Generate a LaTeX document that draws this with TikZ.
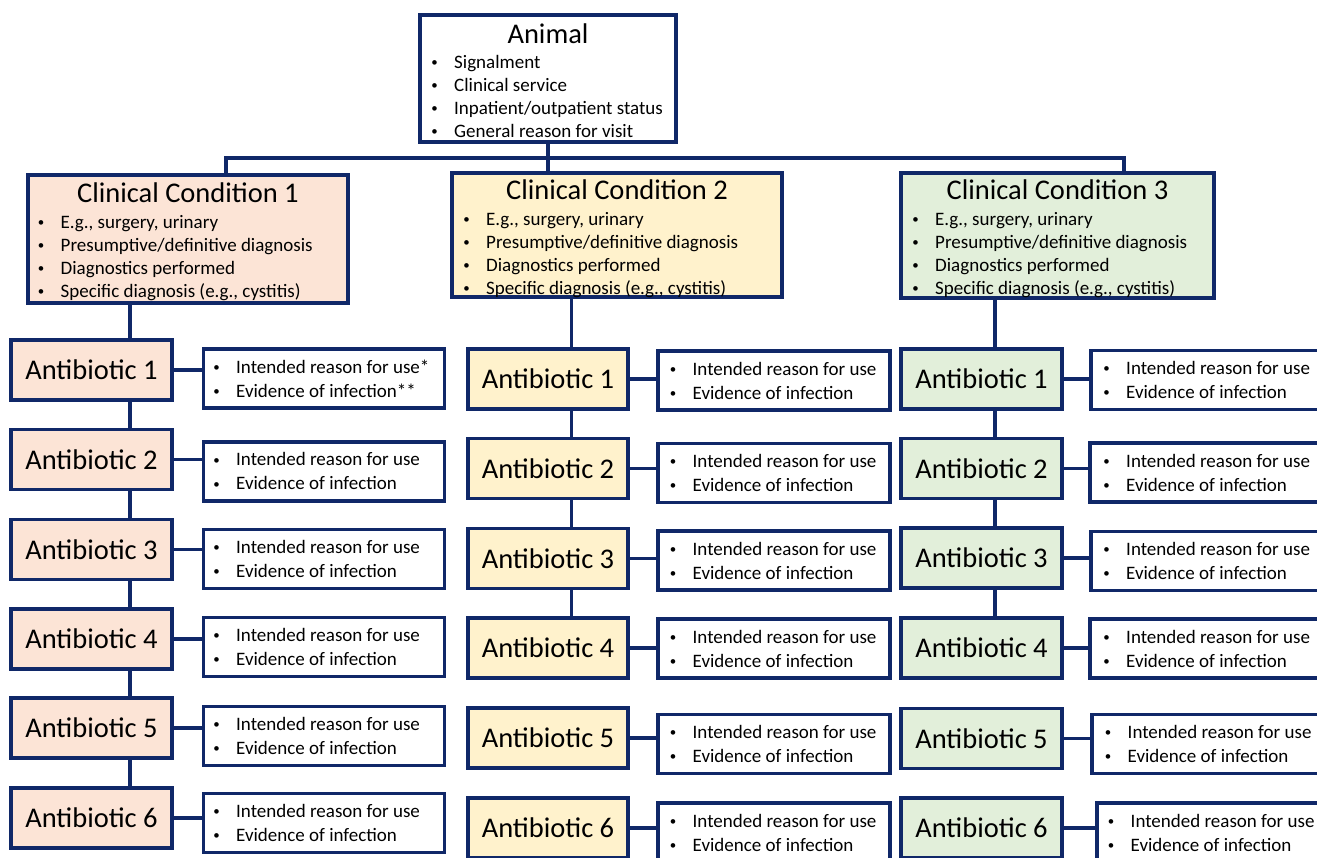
\documentclass[tikz,border=0pt]{standalone}
\usepackage{graphicx}
\usepackage{fontspec}
\setmainfont{Carlito}
\definecolor{navy}{RGB}{16,40,104}
\definecolor{peach}{RGB}{252,228,214}
\definecolor{pyellow}{RGB}{255,242,204}
\definecolor{pgreen}{RGB}{226,239,218}
\newcommand\smallbullet{\raisebox{0.09em}{\scalebox{0.68}{\textbullet}}}
\newcommand\bli[1]{\makebox[0pt][c]{\smallbullet}\hspace{19.5pt}#1}
\newcommand\infotext[2]{\begin{tabular}[t]{@{}l@{}}\bli{#1}\\\bli{#2}\end{tabular}}
\tikzset{
  box/.style={draw=navy, line width=3.5pt, inner sep=0pt, outer sep=0pt},
  abbox/.style={box, minimum height=60pt, font=\fontsize{28.5}{32}\selectfont},
  infobox/.style={box, fill=white, minimum height=59pt},
  titletext/.style={anchor=base, inner sep=0pt, font=\fontsize{28.5}{32}\selectfont},
  blist/.style={anchor=base west, inner sep=0pt, font=\fontsize{19}{23}\selectfont},
  ilist/.style={anchor=base west, inner sep=0pt, font=\fontsize{19}{24}\selectfont},
  conn/.style={draw=navy, line width=3.5pt},
}
\begin{document}
\begin{tikzpicture}[x=1pt,y=-1pt]
\path[use as bounding box] (0,0) rectangle (1317,857);
\clip (0,0) rectangle (1317,857);

% Animal
\node[box, fill=white, minimum width=256pt, minimum height=127pt] (animal) at (548,78.5) {};
\node[titletext] (animalt) at (548,43) {Animal};
\node[blist] (animall) at (434.5,68) {\begin{tabular}[t]{@{}l@{}}\bli{Signalment}\\\bli{Clinical service}\\\bli{Inpatient/outpatient status}\\\bli{General reason for visit}\end{tabular}};

% Clinical conditions
\node[box, fill=peach, minimum width=320pt, minimum height=128pt] (cc1) at (188,239) {};
\node[titletext] (cc1t) at (188,202) {Clinical Condition 1};
\node[blist] (cc1l) at (41,228) {\begin{tabular}[t]{@{}l@{}}\bli{E.g., surgery, urinary}\\\bli{Presumptive/definitive diagnosis}\\\bli{Diagnostics performed}\\\bli{Specific diagnosis (e.g., cystitis)}\end{tabular}};

\node[box, fill=pyellow, minimum width=330pt, minimum height=124pt] (cc2) at (617,235) {};
\node[titletext] (cc2t) at (617,199) {Clinical Condition 2};
\node[blist] (cc2l) at (466.5,225) {\begin{tabular}[t]{@{}l@{}}\bli{E.g., surgery, urinary}\\\bli{Presumptive/definitive diagnosis}\\\bli{Diagnostics performed}\\\bli{Specific diagnosis (e.g., cystitis)}\end{tabular}};

\node[box, fill=pgreen, minimum width=313pt, minimum height=125pt] (cc3) at (1057.5,235.5) {};
\node[titletext] (cc3t) at (1057.5,199) {Clinical Condition 3};
\node[blist] (cc3l) at (915.5,225) {\begin{tabular}[t]{@{}l@{}}\bli{E.g., surgery, urinary}\\\bli{Presumptive/definitive diagnosis}\\\bli{Diagnostics performed}\\\bli{Specific diagnosis (e.g., cystitis)}\end{tabular}};

% Column 1
\foreach \i/\ay/\iy in {1/370/378.5, 2/459.7/471.3, 3/549.5/559, 4/639/647, 5/728/736, 6/818/823} {
  \node[abbox, fill=peach, minimum width=161pt] (a1\i) at (91.5,\ay) {Antibiotic \i};
  \node[infobox, minimum width=241pt] (i1\i) at (324,\iy) {};
}
\node[ilist] (t11) at (216.5,373) {\infotext{Intended reason for use*}{Evidence of infection**}};
\foreach \i/\iy in {2/471.3, 3/559, 4/647, 5/736, 6/823} {
  \node[ilist] (t1\i) at (216.5,\iy-5.5) {\infotext{Intended reason for use}{Evidence of infection}};
}

% Column 2
\foreach \i/\ay/\iy in {1/379/380.5, 2/468.3/473, 3/558.3/560.5, 4/648/648.5, 5/737.8/744, 6/828/832.5} {
  \node[abbox, fill=pyellow, minimum width=160pt] (a2\i) at (548,\ay) {Antibiotic \i};
  \node[infobox, minimum width=232pt] (i2\i) at (774,\iy) {};
  \node[ilist] (t2\i) at (673,\iy-5.5) {\infotext{Intended reason for use}{Evidence of infection}};
}

% Column 3
\foreach \i/\ay/\iy/\ix/\bx in {1/379/380/1091/1106.5, 2/468.3/472.5/1090/1106.5, 3/558/561/1091/1106.5, 4/648/648.5/1090/1106.5, 5/738.3/744/1092/1108, 6/828/832.5/1097/1111} {
  \node[abbox, fill=pgreen, minimum width=161pt] (a3\i) at (981.5,\ay) {Antibiotic \i};
  \node[infobox, minimum width=232pt] (i3\i) at (\ix+116,\iy) {};
  \node[ilist] (t3\i) at (\bx,\iy-5.5) {\infotext{Intended reason for use}{Evidence of infection}};
}

% Connectors: animal to conditions
\coordinate (bus1) at (226,158);
\coordinate (bus3) at (1124,158);
\draw[conn] (bus1 |- cc1.north) -- (bus1) -- (bus3) -- (bus3 |- cc3.north);
\draw[conn] (animal.south) -- (animal.south |- cc2.north);

% Vertical chains
\coordinate (v1) at (130,0);
\coordinate (v2) at (571.5,0);
\coordinate (v3) at (995,0);
\draw[conn] (v1 |- cc1.south) -- (v1 |- a11.north);
\draw[conn] (v2 |- cc2.south) -- (v2 |- a21.north);
\draw[conn] (v3 |- cc3.south) -- (v3 |- a31.north);
\foreach \i/\j in {1/2, 2/3, 3/4, 4/5, 5/6} {
  \draw[conn] (v1 |- a1\i.south) -- (v1 |- a1\j.north);
}
\foreach \i/\j in {1/2, 2/3, 3/4} {
  \draw[conn] (v2 |- a2\i.south) -- (v2 |- a2\j.north);
  \draw[conn] (v3 |- a3\i.south) -- (v3 |- a3\j.north);
}

% Horizontal links antibiotic -> info
\foreach \c in {1,2,3} {
  \foreach \i in {1,...,6} {
    \draw[conn] (a\c\i.east) -- (a\c\i.east -| i\c\i.west);
  }
}
\end{tikzpicture}
\end{document}
